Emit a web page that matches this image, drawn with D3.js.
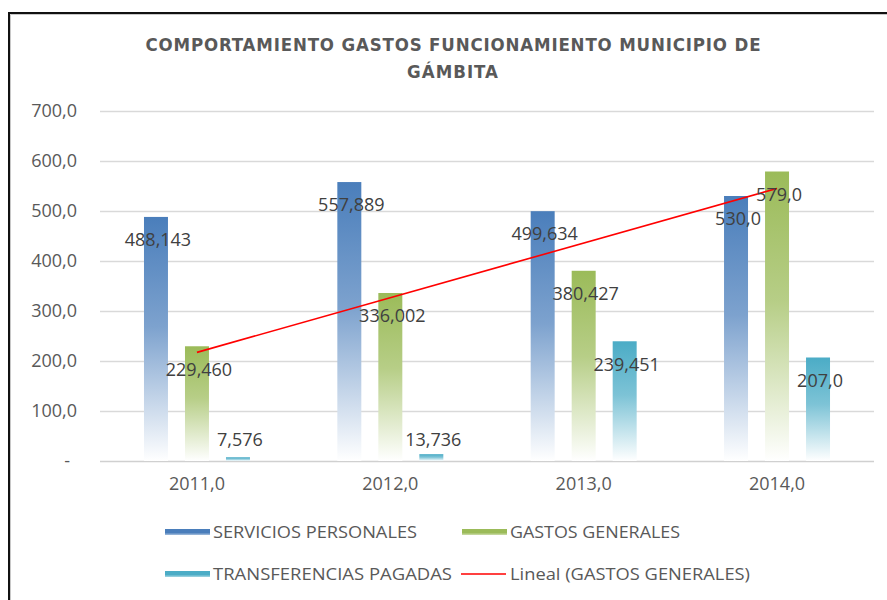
<!DOCTYPE html>
<html>
<head>
<meta charset="utf-8">
<script src="https://cdn.jsdelivr.net/npm/d3@7"></script>
<style>
  body { margin: 0; background: #fff; }
  svg { display: block; }
</style>
</head>
<body>
<svg id="chart" width="887" height="600"></svg>
<script>
// ---- data ----
const years = ["2011,0", "2012,0", "2013,0", "2014,0"];
const labelDecimals = [3, 3, 3, 1];
const seriesNames = ["SERVICIOS PERSONALES", "GASTOS GENERALES", "TRANSFERENCIAS PAGADAS"];
const serviciosPersonales = [488.143, 557.889, 499.634, 530.0];
const gastosGenerales = [229.460, 336.002, 380.427, 579.0];
const transferenciasPagadas = [7.576, 13.736, 239.451, 207.0];
const yTicks = [0, 100, 200, 300, 400, 500, 600, 700];
const titleLines = ["COMPORTAMIENTO GASTOS FUNCIONAMIENTO MUNICIPIO DE", "GÁMBITA"];
const trendName = "Lineal (GASTOS GENERALES)";

const seriesValues = [serviciosPersonales, gastosGenerales, transferenciasPagadas];
const seriesColors = ["#4a7ebb", "#9bbb59", "#4bacc6"];

const svg = d3.select("#chart");
const font = "'Open Sans', 'Liberation Sans', Arial, sans-serif";
const titleFont = "'Liberation Sans Narrow', 'DejaVu Sans Condensed', 'Liberation Sans', Arial, sans-serif";

// decimal comma formatting
const fmt = (v, d) => d3.format(`.${d}f`)(v).replace(".", ",");

// ---- frame ----
svg.append("rect").attr("x", 0).attr("y", 0).attr("width", 887).attr("height", 600).attr("fill", "#fff");
svg.append("path").attr("d", "M9,700 V13 H900").attr("fill", "none").attr("stroke", "#111").attr("stroke-width", 2);
svg.append("path").attr("d", "M10.5,700 V14.5 H900").attr("fill", "none").attr("stroke", "#c8c8c8").attr("stroke-width", 1);

// ---- scales ----
const y = d3.scaleLinear().domain([0, 700]).range([461, 111]);
const x0 = d3.scaleBand().domain(years).range([100.3, 873.7]).paddingInner(0).paddingOuter(0);
const x1 = d3.scaleBand().domain(seriesNames).range([-61.5, 61.5]).paddingInner(0.415).paddingOuter(0.2075);
const center = yr => x0(yr) + x0.bandwidth() / 2;

// ---- gradients ----
const defs = svg.append("defs");
seriesColors.forEach((c, i) => {
  const g = defs.append("linearGradient").attr("id", "grad" + i)
    .attr("x1", 0).attr("y1", 0).attr("x2", 0).attr("y2", 1);
  g.append("stop").attr("offset", "0%").attr("stop-color", c);
  g.append("stop").attr("offset", "45%").attr("stop-color", d3.interpolateRgb(c, "#ffffff")(0.28));
  g.append("stop").attr("offset", "100%").attr("stop-color", "#ffffff");
  const s = defs.append("linearGradient").attr("id", "sw" + i)
    .attr("x1", 0).attr("y1", 0).attr("x2", 0).attr("y2", 1);
  s.append("stop").attr("offset", "0%").attr("stop-color", c);
  s.append("stop").attr("offset", "60%").attr("stop-color", c);
  s.append("stop").attr("offset", "100%").attr("stop-color", d3.interpolateRgb(c, "#ffffff")(0.5));
});

// ---- gridlines ----
svg.append("g").selectAll("line").data(yTicks).join("line")
  .attr("x1", 100).attr("x2", 874)
  .attr("y1", d => Math.round(y(d)) + 0.5).attr("y2", d => Math.round(y(d)) + 0.5)
  .attr("stroke", d => d === 0 ? "#d0d0d0" : "#d9d9d9").attr("stroke-width", 1.5);

// ---- y axis labels ----
const yAxis = svg.append("g").attr("transform", "translate(77,0)")
  .call(d3.axisLeft(y).tickValues(yTicks).tickSize(0).tickPadding(0)
    .tickFormat(d => d === 0 ? "-" : fmt(d, 1)));
yAxis.select(".domain").remove();
yAxis.selectAll("text").attr("font-family", font).attr("font-size", 18).attr("fill", "#595959")
  .attr("dx", d => d === 0 ? -7 : 0);

// ---- x axis labels ----
const xAxis = svg.append("g").attr("transform", "translate(0,461)")
  .call(d3.axisBottom(x0).tickSize(0).tickPadding(16));
xAxis.select(".domain").remove();
xAxis.selectAll("text").attr("font-family", font).attr("font-size", 18).attr("fill", "#595959");

// ---- bars ----
const barData = [];
years.forEach((yr, j) => {
  seriesNames.forEach((s, i) => {
    barData.push({ yr, j, s, i, v: seriesValues[i][j] });
  });
});

svg.append("g").selectAll("rect").data(barData).join("rect")
  .attr("x", d => center(d.yr) + x1(d.s))
  .attr("width", x1.bandwidth())
  .attr("y", d => y(d.v))
  .attr("height", d => y(0) - y(d.v))
  .attr("fill", d => `url(#grad${d.i})`);

// ---- trendline (least squares over GASTOS GENERALES) ----
const xs = years.map((_, j) => j + 1);
const mx = d3.mean(xs), my = d3.mean(gastosGenerales);
const slope = d3.sum(xs, (xv, k) => (xv - mx) * (gastosGenerales[k] - my)) / d3.sum(xs, xv => (xv - mx) ** 2);
const intercept = my - slope * mx;
const trendPts = [0, years.length - 1].map(j => [center(years[j]), y(intercept + slope * xs[j])]);
svg.append("path").attr("d", d3.line()(trendPts))
  .attr("stroke", "#ff0000").attr("stroke-width", 1.6).attr("fill", "none");

// ---- data labels ----
svg.append("g").selectAll("text").data(barData).join("text")
  .attr("x", d => center(d.yr) + x1(d.s) + x1.bandwidth() / 2 + 2)
  .attr("y", d => Math.min(y(d.v) + 23, y(0) - 21.5))
  .attr("dy", "0.35em")
  .attr("text-anchor", "middle")
  .attr("font-family", font).attr("font-size", 18).attr("fill", "#404040")
  .text(d => fmt(d.v, labelDecimals[d.j]));

// ---- title ----
svg.append("text").attr("x", 453).attr("y", 51).attr("text-anchor", "middle")
  .attr("font-family", titleFont).attr("font-weight", "bold")
  .attr("font-size", 18.5).attr("fill", "#595959")
  .attr("textLength", 615).attr("lengthAdjust", "spacing")
  .text(titleLines[0]);
svg.append("text").attr("x", 453).attr("y", 78).attr("text-anchor", "middle")
  .attr("font-family", titleFont).attr("font-weight", "bold")
  .attr("font-size", 18.5).attr("fill", "#595959").attr("letter-spacing", 1)
  .text(titleLines[1]);

// ---- legend ----
const legendItems = [
  { name: seriesNames[0], kind: "bar", i: 0, x: 165, y: 532, w: 204 },
  { name: seriesNames[1], kind: "bar", i: 1, x: 462, y: 532, w: 170 },
  { name: seriesNames[2], kind: "bar", i: 2, x: 165, y: 574, w: 239 },
  { name: trendName, kind: "line", x: 461, y: 574, w: 240 }
];
const lg = svg.append("g").selectAll("g").data(legendItems).join("g")
  .attr("transform", d => `translate(${d.x},${d.y})`);
lg.filter(d => d.kind === "bar").append("rect")
  .attr("x", 0).attr("y", -3).attr("width", 45).attr("height", 6)
  .attr("fill", d => `url(#sw${d.i})`);
lg.filter(d => d.kind === "line").append("line")
  .attr("x1", 0).attr("x2", 45).attr("y1", 0).attr("y2", 0)
  .attr("stroke", "#ff0000").attr("stroke-width", 1.6);
lg.append("text")
  .attr("x", d => d.kind === "line" ? 49 : 48).attr("y", 0).attr("dy", "0.35em")
  .attr("font-family", font).attr("font-size", 17).attr("fill", "#595959")
  .attr("textLength", d => d.w).attr("lengthAdjust", "spacingAndGlyphs")
  .text(d => d.name);
</script>
</body>
</html>
